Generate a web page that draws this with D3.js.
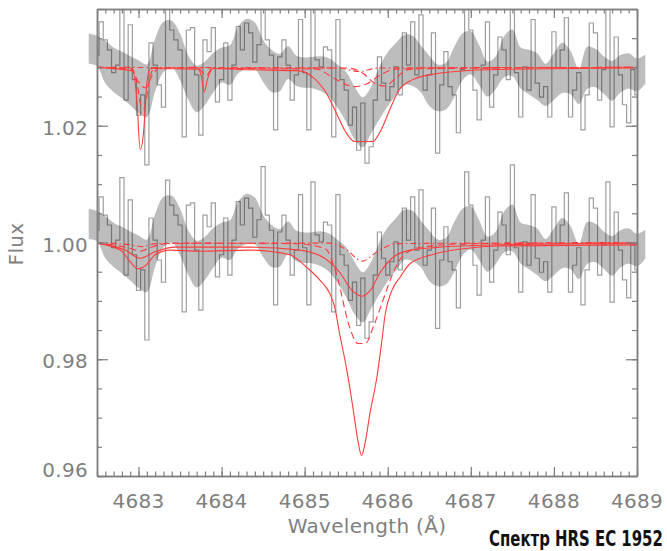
<!DOCTYPE html>
<html><head><meta charset="utf-8">
<script src="https://cdn.jsdelivr.net/npm/d3@7"></script>
<style>body{margin:0;background:#fff}svg{display:block}</style>
</head><body>
<svg id="c" width="667" height="551"></svg>
<script>
// ---------- DATA ----------
const waveDomain = [4682.5, 4689.0];
const fluxDomain = [0.96, 1.04];
const xMajorTicks = [4683, 4684, 4685, 4686, 4687, 4688, 4689];
const yMajorTicks = [0.96, 0.98, 1.00, 1.02];
const panelOffset = 0.03;           // upper spectrum shifted by +0.03

// observed spectrum (bins of 0.05 Å starting at 4682.5)
const specStart = 4682.5, specStep = 0.05;
const specFlux = [
 1.0021,1.0078,1.0047,1.0030,0.9991,1.0004,1.0111,0.9944,1.0073,0.9979,
 0.9918,0.9953,0.9833,1.0042,1.0004,0.9970,0.9932,1.0107,1.0064,1.0047,
 1.0030,0.9881,1.0064,1.0068,0.9987,0.9884,1.0047,1.0027,1.0068,0.9941,
 0.9979,1.0042,0.9944,1.0004,1.0070,1.0030,1.0076,1.0059,1.0009,1.0039,
 1.0130,1.0047,1.0021,0.9893,1.0018,1.0047,1.0004,0.9944,0.9987,1.0082,
 0.9991,0.9893,1.0104,1.0013,1.0001,1.0035,1.0030,0.9881,1.0082,0.9979,
 0.9961,0.9901,0.9932,0.9858,0.9939,0.9836,0.9864,0.9944,1.0018,0.9973,
 0.9944,0.9967,1.0001,0.9953,1.0059,1.0004,1.0078,0.9987,1.0090,0.9961,
 0.9987,1.0059,0.9853,0.9970,1.0027,0.9967,0.9953,0.9888,0.9996,1.0121,
 1.0064,0.9961,0.9910,1.0004,1.0078,0.9932,0.9987,1.0052,1.0030,0.9979,
 1.0133,0.9991,0.9915,1.0001,0.9961,1.0082,0.9973,0.9949,0.9967,0.9915,
 1.0061,0.9999,1.0030,1.0085,0.9915,0.9961,0.9991,0.9893,0.9953,1.0076,
 1.0059,0.9944,0.9996,1.0104,0.9898,1.0052,0.9987,0.9936,0.9905,0.9996,
 0.9953];

// smoothed spectrum band (0.1 Å grid starting at 4682.4)
const bandStart = 4682.4, bandStep = 0.1;
const bandCenter = [
 1.0032,1.0028,1.0009,0.9996,0.9987,0.9977,0.9967,0.9960,1.0004,1.0035,
 1.0040,1.0018,0.9982,0.9963,0.9973,0.9991,1.0004,1.0004,1.0030,1.0040,
 1.0037,1.0011,0.9994,0.9991,1.0008,0.9994,0.9991,0.9991,0.9989,0.9982,
 0.9967,0.9949,0.9922,0.9906,0.9927,0.9956,0.9980,0.9997,1.0013,1.0011,
 0.9997,0.9977,0.9965,0.9968,0.9992,1.0018,1.0025,1.0004,0.9980,0.9991,
 1.0018,1.0025,0.9999,0.9992,0.9984,0.9970,0.9984,0.9999,0.9991,0.9967,
 0.9999,0.9999,0.9987,0.9977,0.9989,0.9994,0.9987,0.9997];
const bandHalf = [
 0.0026,0.0026,0.0036,0.0038,0.0040,0.0042,0.0045,0.0045,0.0045,0.0043,
 0.0040,0.0040,0.0038,0.0040,0.0037,0.0034,0.0030,0.0034,0.0040,0.0043,
 0.0040,0.0036,0.0036,0.0032,0.0028,0.0026,0.0026,0.0027,0.0030,0.0033,
 0.0037,0.0043,0.0045,0.0043,0.0040,0.0045,0.0046,0.0045,0.0043,0.0043,
 0.0040,0.0043,0.0040,0.0040,0.0043,0.0040,0.0037,0.0034,0.0030,0.0028,
 0.0035,0.0040,0.0035,0.0038,0.0040,0.0036,0.0040,0.0043,0.0037,0.0030,
 0.0036,0.0033,0.0032,0.0034,0.0032,0.0030,0.0028,0.0025];

// model profiles, upper panel  [wavelength, flux]
const topSolid = [[4682.5,1.0300],[4682.93,1.0294],[4682.98,1.0245],[4683.02,1.0159],[4683.06,1.0188],
 [4683.10,1.0273],[4683.14,1.0298],[4683.72,1.0297],[4683.76,1.0282],[4683.79,1.0258],[4683.83,1.0280],
 [4683.90,1.0298],[4684.34,1.0296],[4684.94,1.0294],[4685.10,1.0283],[4685.26,1.0256],[4685.38,1.0222],
 [4685.50,1.0188],[4685.60,1.0173],[4685.70,1.0173],[4685.82,1.0173],[4685.92,1.0193],[4686.04,1.0233],
 [4686.14,1.0262],[4686.30,1.0279],[4686.54,1.0288],[4686.75,1.0292],[4687.2,1.0296],[4689.0,1.0299]];
const topDash1 = [[4682.5,1.0300],[4682.92,1.0298],[4682.98,1.0275],[4683.03,1.0235],[4683.07,1.0230],
 [4683.12,1.0270],[4683.18,1.0298],[4683.70,1.0300],[4683.78,1.0290],[4683.82,1.0286],[4683.88,1.0298],
 [4685.15,1.0297],[4685.30,1.0286],[4685.42,1.0276],[4685.60,1.0267],[4685.75,1.0272],[4685.90,1.0286],
 [4686.10,1.0297],[4689.0,1.0300]];
const topDash2 = [[4682.5,1.0300],[4682.90,1.0298],[4683.00,1.0275],[4683.08,1.0265],[4683.16,1.0285],
 [4683.25,1.0299],[4685.50,1.0299],[4685.70,1.0290],[4685.85,1.0272],[4685.97,1.0268],[4686.10,1.0282],
 [4686.22,1.0295],[4686.40,1.0299],[4689.0,1.0300]];
const topDashDot = [[4682.5,1.0300],[4685.40,1.0299],[4685.65,1.0293],[4685.90,1.0299],[4689.0,1.0300]];

// model profiles, lower panel
const botSolidDeep = [[4682.50,0.9999],[4682.78,0.9987],[4682.90,0.9967],[4682.99,0.9955],[4683.09,0.9961],
 [4683.20,0.9979],[4683.38,0.9987],[4683.74,0.9985],[4684.34,0.9987],[4684.82,0.9979],[4685.02,0.9958],
 [4685.18,0.9936],[4685.30,0.9913],[4685.36,0.9890],[4685.42,0.9844],[4685.50,0.9787],[4685.58,0.9718],
 [4685.64,0.9661],[4685.685,0.9635],[4685.725,0.9655],[4685.785,0.9707],[4685.87,0.9770],[4685.93,0.9833],
 [4685.97,0.9878],[4686.05,0.9918],[4686.15,0.9941],[4686.27,0.9964],[4686.55,0.9980],[4687.02,0.9991],
 [4687.31,0.9994],[4689.0,0.9996]];
const botSolidMid = [[4682.50,0.9999],[4682.84,0.9987],[4683.02,0.9973],[4683.20,0.9984],[4683.44,0.9992],
 [4684.34,0.9992],[4684.94,0.9987],[4685.24,0.9973],[4685.42,0.9949],[4685.57,0.9918],[4685.69,0.9908],
 [4685.79,0.9918],[4685.91,0.9949],[4686.05,0.9973],[4686.27,0.9987],[4686.63,0.9992],[4687.35,0.9996],
 [4689.0,0.9999]];
const botDash = [[4682.50,0.9999],[4682.90,0.9990],[4683.02,0.9985],[4683.15,0.9992],[4683.40,0.9999],
 [4684.90,0.9998],[4685.25,0.9989],[4685.38,0.9947],[4685.54,0.9855],[4685.64,0.9827],[4685.73,0.9827],
 [4685.83,0.9857],[4685.95,0.9904],[4686.05,0.9943],[4686.17,0.9975],[4686.40,0.9992],[4687.0,0.9998],
 [4689.0,0.9999]];
const botDashDot = [[4682.50,1.0000],[4682.90,0.9996],[4683.05,0.9993],[4683.20,0.9998],[4685.30,0.9999],
 [4685.50,0.9988],[4685.69,0.9968],[4685.88,0.9985],[4686.10,0.9998],[4689.0,1.0000]];

const xLabel = "Wavelength (Å)";
const yLabel = "Flux";
const caption = "Спектр HRS EC 1952";

// ---------- DRAW ----------
const svg = d3.select("#c");
const L = 97, R = 637, T = 9, B = 476;
const x = d3.scaleLinear().domain(waveDomain).range([L, R]);
const y = d3.scaleLinear().domain(fluxDomain).range([B, T]);
const axisColor = "#7f7f7f";
const red = "#ff3b3b";

svg.append("defs").append("clipPath").attr("id","frame")
  .append("rect").attr("x",L).attr("y",T).attr("width",R-L).attr("height",B-T);

const spec = specFlux.map((f,i)=>({w: specStart + i*specStep, f}));
const band = bandCenter.map((c,i)=>({w: bandStart + i*bandStep, c, h: bandHalf[i]}));

[panelOffset, 0].forEach(off => {
  const area = d3.area()
    .x(d=>x(d.w)).y0(d=>y(d.c - d.h + off)).y1(d=>y(d.c + d.h + off))
    .curve(d3.curveCatmullRom);
  svg.append("path").datum(band).attr("d", area)
    .attr("fill","#bdbdbd").attr("stroke","none");
});

const gData = svg.append("g").attr("clip-path","url(#frame)");
[panelOffset, 0].forEach(off => {
  const line = d3.line().x(d=>x(d.w)).y(d=>y(d.f + off)).curve(d3.curveStep);
  gData.append("path").datum(spec).attr("d", line)
    .attr("fill","none").attr("stroke","rgba(0,0,0,0.38)").attr("stroke-width",1.2);
});

const model = d3.line().x(d=>x(d[0])).y(d=>y(d[1])).curve(d3.curveMonotoneX);
const models = [
  [topSolid, null], [topDash1, "7,4"], [topDash2, "7,4"], [topDashDot, "6,3,1.5,3"],
  [botSolidDeep, null], [botSolidMid, null], [botDash, "7,4"], [botDashDot, "6,3,1.5,3"]
];
const gModel = svg.append("g").attr("clip-path","url(#frame)");
models.forEach(([pts, dash]) => {
  gModel.append("path").datum(pts).attr("d", model)
    .attr("fill","none").attr("stroke", red).attr("stroke-width",1.1)
    .attr("stroke-dasharray", dash);
});

// ---------- AXES ----------
const xMinor = d3.range(Math.round(waveDomain[0]*10), Math.round(waveDomain[1]*10)+1).map(v=>v/10);
const yMinor = d3.range(Math.round(fluxDomain[0]*200), Math.round(fluxDomain[1]*200)+1).map(v=>v/200);

function styleAxis(g){
  g.selectAll("path.domain").attr("stroke", axisColor).attr("stroke-width",1.5);
  g.selectAll(".tick line").attr("stroke", axisColor).attr("stroke-width",1.2);
  g.selectAll("text").remove();
}
svg.append("g").attr("transform",`translate(0,${B})`)
  .call(d3.axisBottom(x).tickValues(xMinor).tickSize(-4.5).tickSizeOuter(0)).call(styleAxis);
svg.append("g").attr("transform",`translate(0,${B})`)
  .call(d3.axisBottom(x).tickValues(xMajorTicks).tickSize(-9).tickSizeOuter(0)).call(styleAxis);
svg.append("g").attr("transform",`translate(0,${T})`)
  .call(d3.axisTop(x).tickValues(xMinor).tickSize(-4.5).tickSizeOuter(0)).call(styleAxis);
svg.append("g").attr("transform",`translate(0,${T})`)
  .call(d3.axisTop(x).tickValues(xMajorTicks).tickSize(-9).tickSizeOuter(0)).call(styleAxis);
svg.append("g").attr("transform",`translate(${L},0)`)
  .call(d3.axisLeft(y).tickValues(yMinor).tickSize(-5).tickSizeOuter(0)).call(styleAxis);
svg.append("g").attr("transform",`translate(${L},0)`)
  .call(d3.axisLeft(y).tickValues(yMajorTicks).tickSize(-11).tickSizeOuter(0)).call(styleAxis);
svg.append("g").attr("transform",`translate(${R},0)`)
  .call(d3.axisRight(y).tickValues(yMinor).tickSize(-5).tickSizeOuter(0)).call(styleAxis);
svg.append("g").attr("transform",`translate(${R},0)`)
  .call(d3.axisRight(y).tickValues(yMajorTicks).tickSize(-11).tickSizeOuter(0)).call(styleAxis);

const font = "'DejaVu Sans', sans-serif";
svg.append("g").selectAll("text").data(xMajorTicks).join("text")
  .attr("x", d=>x(d)).attr("y", 508).attr("text-anchor","middle")
  .attr("font-family",font).attr("font-size",20).attr("letter-spacing",0.3)
  .attr("fill",axisColor).text(d=>d);
svg.append("g").selectAll("text").data(yMajorTicks).join("text")
  .attr("x", 88).attr("y", d=>y(d) + (d===0.96 ? 1 : 9)).attr("text-anchor","end")
  .attr("font-family",font).attr("font-size",20).attr("letter-spacing",0.3)
  .attr("fill",axisColor).text(d=>d3.format(".2f")(d));

svg.append("text").attr("x", 367).attr("y", 533).attr("text-anchor","middle")
  .attr("font-family",font).attr("font-size",20).attr("letter-spacing",0.3)
  .attr("fill",axisColor).text(xLabel);
svg.append("text").attr("transform","translate(23,244) rotate(-90)").attr("text-anchor","middle")
  .attr("font-family",font).attr("font-size",20).attr("letter-spacing",0.3)
  .attr("fill",axisColor).text(yLabel);

// caption: condensed bold, squeezed horizontally to its width in the reference
const cap = svg.append("text")
  .attr("font-family","'Liberation Sans Narrow','DejaVu Sans Condensed','Roboto',sans-serif")
  .attr("font-weight","bold").attr("font-size",22)
  .attr("text-anchor","start").attr("fill","#111").text(caption);
const natural = cap.node().getComputedTextLength();
const sx = Math.min(1, 174 / natural);
cap.attr("transform", `translate(489,546) scale(${sx},1)`);
</script>
</body></html>
